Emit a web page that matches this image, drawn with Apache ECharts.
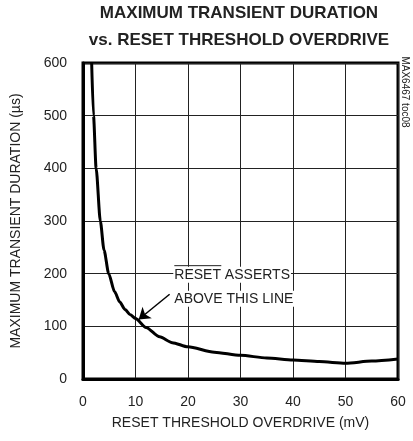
<!DOCTYPE html>
<html>
<head>
<meta charset="utf-8">
<script src="https://cdn.jsdelivr.net/npm/echarts@6/dist/echarts.min.js"></script>
<style>
  html, body { margin: 0; padding: 0; background: #fff; }
  #chart { width: 413px; height: 441px; }
</style>
</head>
<body>
<div id="chart"></div>
<script>
// overdrive (mV) vs max transient duration (us)
var overdrive = [1.65, 2.0, 2.5, 3.3, 4.0, 4.9, 6, 7, 8, 9, 10, 12, 14.6, 17, 20, 25, 30, 35, 40, 45, 50, 55, 60]
var duration  = [600, 500, 400, 300, 245, 200, 166, 146, 132, 122, 115, 98, 80, 69, 61, 51, 45, 40, 36, 33, 30, 34, 38]
var xTicks = [0, 10, 20, 30, 40, 50, 60]
var yTicks = [0, 100, 200, 300, 400, 500, 600]
// arrow from label to curve (data units)
var arrowFrom = [16.5, 161]
var arrowTo = [10.6, 113]

var font = 'Liberation Sans, Arial, sans-serif'
var chart = echarts.init(document.getElementById('chart'))

var option = {
  animation: false,
  title: {
    text: 'MAXIMUM TRANSIENT DURATION\nvs. RESET THRESHOLD OVERDRIVE',
    left: 239,
    top: 0,
    padding: 0,
    textAlign: 'center',
    textStyle: {
      fontFamily: font,
      fontSize: 17,
      fontWeight: 'bold',
      color: '#222',
      lineHeight: 27
    }
  },
  grid: {
    left: 83, top: 63, right: 15, bottom: 62,
    show: true,
    borderColor: '#000',
    borderWidth: 3
  },
  xAxis: {
    type: 'value',
    min: xTicks[0],
    max: xTicks[xTicks.length - 1],
    interval: 10,
    name: 'RESET THRESHOLD OVERDRIVE (mV)',
    nameLocation: 'middle',
    nameGap: 37,
    nameTextStyle: { fontFamily: font, fontSize: 14, color: '#222' },
    axisLine: { show: true, lineStyle: { color: '#000', width: 3 } },
    axisTick: { show: false },
    axisLabel: { fontFamily: font, fontSize: 14, color: '#222', margin: 16 },
    splitLine: { show: true, lineStyle: { color: '#222', width: 1 } }
  },
  yAxis: {
    type: 'value',
    min: yTicks[0],
    max: yTicks[yTicks.length - 1],
    interval: 100,
    name: 'MAXIMUM TRANSIENT DURATION (\u00b5s)',
    nameLocation: 'middle',
    nameGap: 60,
    nameTextStyle: { fontFamily: font, fontSize: 14, color: '#222' },
    axisLine: { show: true, lineStyle: { color: '#000', width: 3 } },
    axisTick: { show: false },
    axisLabel: { fontFamily: font, fontSize: 14, color: '#222', margin: 16 },
    splitLine: { show: true, lineStyle: { color: '#222', width: 1 } }
  },
  series: [{
    type: 'line',
    data: overdrive.map(function (x, i) { return [x, duration[i]] }),
    smooth: 0.25,
    smoothMonotone: 'x',
    showSymbol: false,
    lineStyle: { color: '#000', width: 3 },
    markLine: {
      silent: true,
      symbol: ['none', 'arrow'],
      symbolSize: 11,
      label: { show: false },
      lineStyle: { color: '#000', width: 1.5, type: 'solid' },
      data: [[{ coord: arrowFrom }, { coord: arrowTo }]]
    }
  }]
}
chart.setOption(option)

// annotation label, placed in data units
var p = chart.convertToPixel({ gridIndex: 0 }, [17.2, 200])
var labelStyle = { fontFamily: font, fontSize: 14, fill: '#222', backgroundColor: '#fff', padding: [1, 1] }
chart.setOption({
  graphic: [
    { type: 'text', x: p[0], y: p[1] - 7, z: 51, style: Object.assign({ text: 'RESET ASSERTS' }, labelStyle) },
    { type: 'line', z: 52, shape: { x1: p[0] + 1, y1: p[1] - 8, x2: p[0] + 48, y2: p[1] - 8 }, style: { stroke: '#222', lineWidth: 1 } },
    { type: 'text', x: p[0], y: p[1] + 17, z: 51, style: Object.assign({ text: 'ABOVE THIS LINE' }, labelStyle) },
    { type: 'text', x: 405, y: 92, rotation: -Math.PI / 2, z: 51,
      style: { text: 'MAX6467 toc08', fontFamily: font, fontSize: 10, fill: '#222', align: 'center', verticalAlign: 'middle' } }
  ]
})
</script>
</body>
</html>
